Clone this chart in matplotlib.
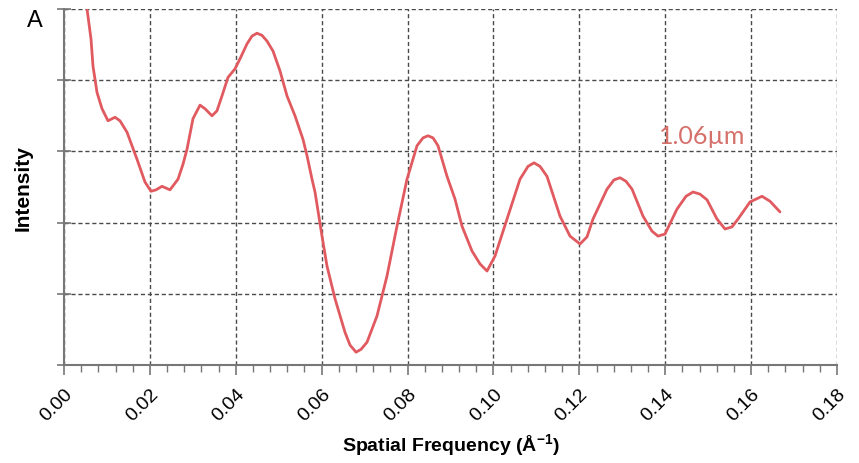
import matplotlib
matplotlib.use("Agg")
import matplotlib.pyplot as plt
import numpy as np
from matplotlib.ticker import MultipleLocator

# values (x in 1/Angstrom, intensity in arbitrary units)
freq = [0.00524, 0.00536, 0.00629, 0.00675, 0.00768, 0.00885, 0.01025, 0.01188,
        0.01304, 0.01467, 0.01700, 0.01886, 0.02026, 0.02142, 0.02282, 0.02468,
        0.02655, 0.02771, 0.02864, 0.03004, 0.03167, 0.03283, 0.03446, 0.03562,
        0.03679, 0.03819, 0.03982, 0.04098, 0.04261, 0.04378, 0.04494, 0.04611,
        0.04727, 0.04867, 0.05030, 0.05193, 0.05379, 0.05565, 0.05659, 0.05775,
        0.05845, 0.06008, 0.06124, 0.06311, 0.06543, 0.06660, 0.06800, 0.06916,
        0.07056, 0.07289, 0.07521, 0.07754, 0.07987, 0.08220, 0.08360, 0.08476,
        0.08593, 0.08709, 0.08919, 0.09105, 0.09268, 0.09501, 0.09687, 0.09850,
        0.10036, 0.10316, 0.10618, 0.10805, 0.10944, 0.11084, 0.11247, 0.11550,
        0.11783, 0.12016, 0.12179, 0.12318, 0.12644, 0.12807, 0.12947, 0.13087,
        0.13227, 0.13483, 0.13692, 0.13832, 0.13995, 0.14274, 0.14484, 0.14647,
        0.14810, 0.14973, 0.15206, 0.15392, 0.15555, 0.15695, 0.15974, 0.16254,
        0.16440, 0.16673]
intensity = [5.07, 5.00, 4.58, 4.20, 3.83, 3.60, 3.43, 3.48,
             3.43, 3.27, 2.89, 2.57, 2.44, 2.46, 2.51, 2.46,
             2.61, 2.82, 3.03, 3.46, 3.65, 3.60, 3.50, 3.57,
             3.78, 4.04, 4.16, 4.30, 4.51, 4.62, 4.66, 4.63,
             4.55, 4.41, 4.13, 3.78, 3.50, 3.17, 2.94, 2.61,
             2.43, 1.81, 1.39, 0.93, 0.46, 0.28, 0.18, 0.22,
             0.32, 0.69, 1.25, 1.95, 2.61, 3.08, 3.19, 3.22,
             3.19, 3.08, 2.65, 2.33, 1.95, 1.60, 1.42, 1.32,
             1.53, 2.05, 2.61, 2.79, 2.84, 2.79, 2.65, 2.09,
             1.81, 1.70, 1.80, 2.05, 2.47, 2.60, 2.63, 2.58,
             2.47, 2.09, 1.88, 1.81, 1.84, 2.19, 2.37, 2.43,
             2.40, 2.32, 2.05, 1.91, 1.94, 2.05, 2.29, 2.37,
             2.30, 2.15]
xtick_vals = [0.00, 0.02, 0.04, 0.06, 0.08, 0.10, 0.12, 0.14, 0.16, 0.18]
label = "1.06µm"

plt.rcParams['font.family'] = ['Liberation Sans', 'DejaVu Sans']

fig = plt.figure(figsize=(8.59, 4.64), dpi=100)
ax = fig.add_axes([0.0745, 0.2112, 0.8999, 0.7672])

ax.plot(freq, intensity, color='#e05a60', lw=2.0, solid_joinstyle='round',
        solid_capstyle='round')

ax.set_xlim(0, 0.18)
ax.set_ylim(0, 5)
ax.xaxis.set_minor_locator(MultipleLocator(0.004))
ax.yaxis.set_major_locator(MultipleLocator(1))
ax.set_yticklabels([])
ax.set_xticks(xtick_vals)
ax.set_xticklabels([f"{v:.2f}" for v in xtick_vals],
                   rotation=45, ha='right', va='top', rotation_mode='anchor', fontsize=14)

ax.grid(True, which='major', ls=(0, (3, 2)), color='#4a4a4a', lw=1.0)
for s in ['top', 'right']:
    ax.spines[s].set_visible(False)
for s in ['left', 'bottom']:
    ax.spines[s].set_color('#777777')
    ax.spines[s].set_linewidth(1.5)
ax.tick_params(axis='x', which='major', direction='out', length=7, width=1.2,
               color='#777777', pad=7)
ax.tick_params(axis='x', which='minor', direction='out', length=5, width=1.0, color='#777777')
ax.tick_params(axis='y', which='major', direction='inout', length=10, width=1.2, color='#777777')

ax.set_xlabel("Spatial Frequency (Å$^{\\mathregular{-1}}$)", fontsize=14, fontweight='bold',
              labelpad=6)
ax.set_ylabel("Intensity", fontsize=15, fontweight='bold', labelpad=14)

ax.text(0.1487, 3.23, label, color='#d6706a', fontsize=18, family=['Lato', 'DejaVu Sans'],
        ha='center', va='center')
fig.text(0.041, 0.955, "A", fontsize=17, ha='center', va='center')

fig.savefig("out.png", dpi=100)
